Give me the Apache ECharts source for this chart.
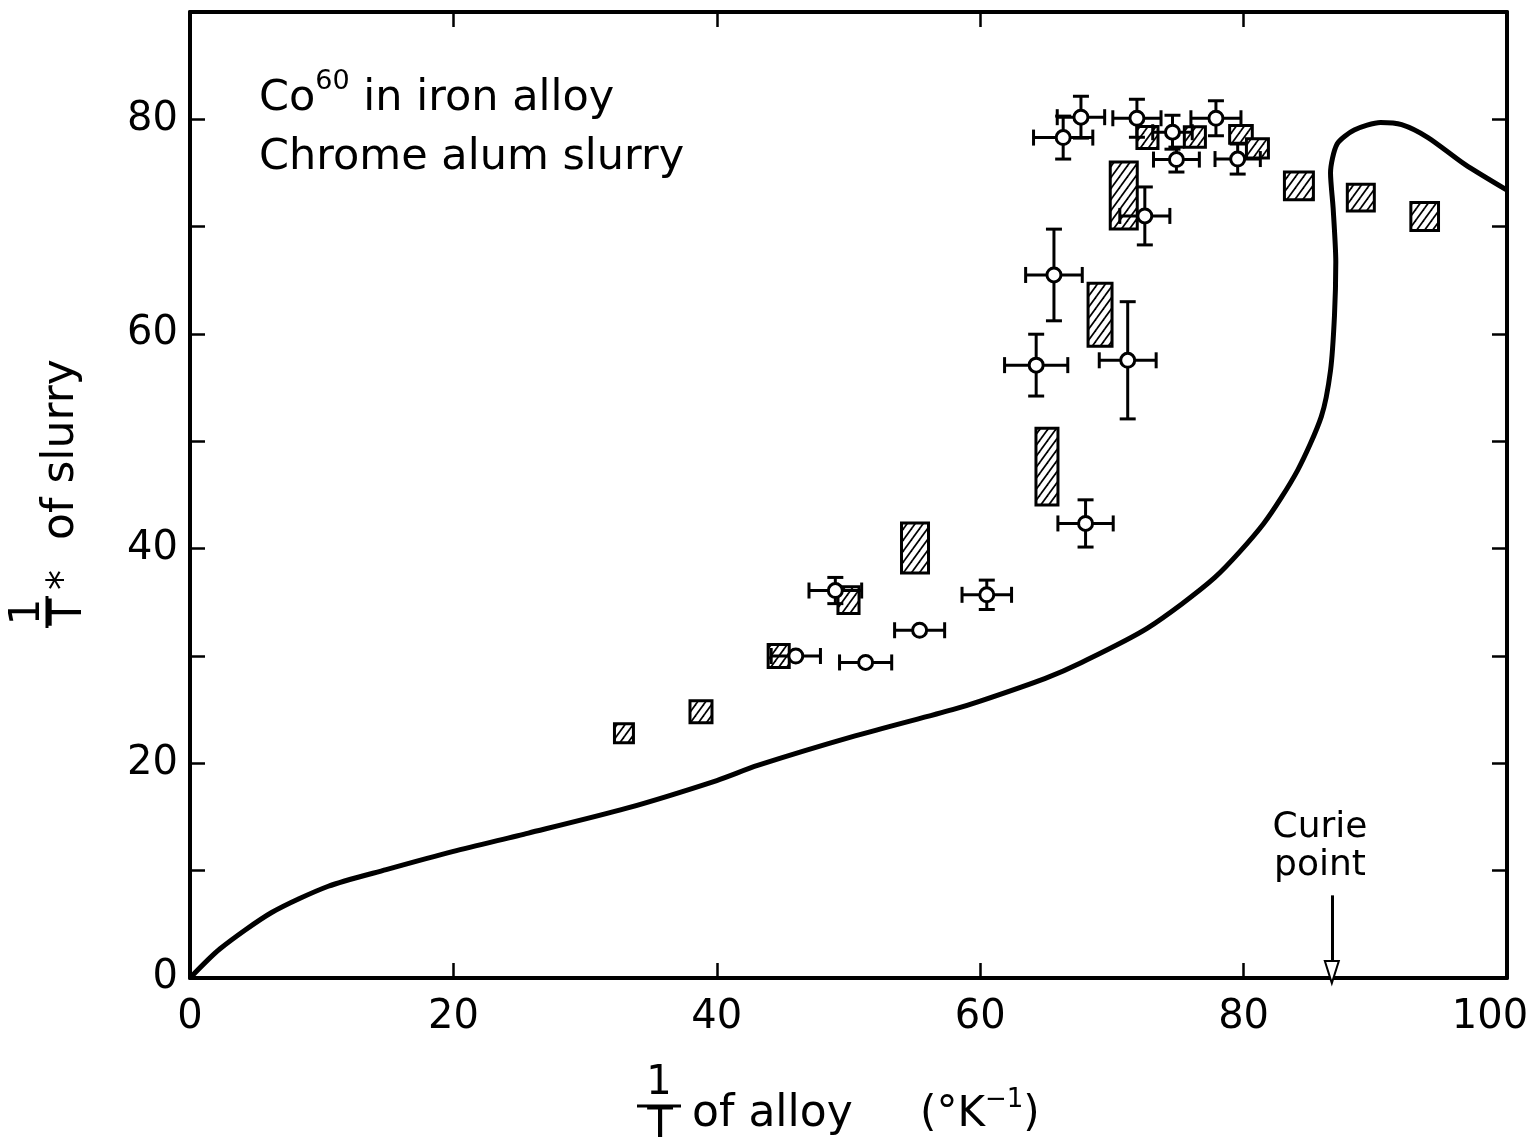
<!DOCTYPE html>
<html>
<head>
<meta charset="utf-8">
<title>Co60 in iron alloy - chrome alum slurry</title>
<script src="https://cdn.jsdelivr.net/npm/echarts@6.0.0/dist/echarts.min.js"></script>
<style>
	html, body { margin: 0; padding: 0; background: #fff; }
	#main { width: 1536px; height: 1147px; }
</style>
</head>
<body>
<div id="main"></div>
<script type="text/javascript">

	// solid curve (1/T of alloy, 1/T* of slurry)
	var curveX = [0, 2.26, 6.2, 10.5, 14.9, 20.0, 25.7, 33.1, 40.0, 43.1, 50.5, 57.9, 60.0, 64.9, 67.7, 72.7, 77.8, 81.5, 84.1, 85.9, 86.6, 86.9, 87.0, 86.8, 86.6, 87.1, 88.4, 90.4, 92.0, 94.0, 96.8, 100];
	var curveY = [0, 2.7, 6.1, 8.55, 10.1, 11.8, 13.5, 15.8, 18.4, 19.8, 22.55, 25.0, 25.8, 27.9, 29.4, 32.6, 37.3, 42.3, 47.3, 52.3, 56.6, 61.7, 66.7, 71.7, 75.0, 77.7, 79.0, 79.7, 79.5, 78.3, 75.8, 73.4];

	// hatched boxes: centre and full extent
	var boxX = [32.95, 38.8, 44.7, 50.0, 55.05, 65.07, 69.1, 70.9, 72.7, 76.3, 79.8, 81.05, 84.2, 88.9, 93.75];
	var boxY = [22.8, 24.8, 30.0, 35.2, 40.06, 47.65, 61.8, 72.9, 78.3, 78.35, 78.6, 77.3, 73.8, 72.7, 70.95];
	var boxW = [1.44, 1.67, 1.6, 1.6, 2.05, 1.67, 1.82, 2.05, 1.6, 1.6, 1.72, 1.67, 2.2, 2.05, 2.1];
	var boxH = [1.77, 2.05, 2.14, 2.5, 4.65, 7.16, 5.86, 6.23, 2.05, 1.9, 1.65, 1.8, 2.6, 2.5, 2.6];

	// open circles with error bars (half widths)
	var ptX    = [46.0, 49.0, 51.3, 55.4, 60.5, 68.0, 64.25, 65.6, 71.2, 72.5, 66.3, 67.65, 71.9, 74.6, 74.9, 77.9, 79.55];
	var ptY    = [30.0, 36.1, 29.4, 32.4, 35.7, 42.35, 57.1, 65.5, 57.55, 71.0, 78.3, 80.2, 80.1, 78.8, 76.25, 80.1, 76.3];
	var ptXErr = [1.87, 2.0, 1.98, 1.9, 1.88, 2.1, 2.4, 2.15, 2.16, 1.9, 2.25, 1.8, 1.83, 1.5, 1.74, 1.9, 1.72];
	var ptYErr = [0, 1.22, 0, 0, 1.37, 2.2, 2.88, 4.27, 5.46, 2.7, 2.0, 1.95, 1.77, 1.58, 1.16, 1.63, 1.4];

	var xTickLabels = [0, 20, 40, 60, 80, 100];
	var yTickLabels = [0, 20, 40, 60, 80];

	var curieX = 86.7;
	var curieArrow = [7.7, 0.55];

	var FONT = 'DejaVu Sans';

	// diagonal hatch tile
	function makeHatch() {
		var w = 8, h = 11;
		var c = document.createElement('canvas');
		c.width = w; c.height = h;
		var g = c.getContext('2d');
		g.fillStyle = '#fff';
		g.fillRect(0, 0, w, h);
		g.strokeStyle = '#000';
		g.lineWidth = 1.7;
		for (var k = -1; k <= 1; k++) {
			g.beginPath();
			g.moveTo(k * w - w, 2 * h);
			g.lineTo(k * w + 2 * w, -h);
			g.stroke();
		}
		return c;
	}
	var hatch = { image: makeHatch(), repeat: 'repeat' };

	var curveData = [];
	for (var i = 0; i < curveX.length; i++) curveData.push([curveX[i], curveY[i]]);
	var boxData = [];
	for (var i = 0; i < boxX.length; i++) boxData.push([boxX[i], boxY[i], boxW[i], boxH[i]]);
	var ptData = [];
	for (var i = 0; i < ptX.length; i++) ptData.push([ptX[i], ptY[i], ptXErr[i], ptYErr[i]]);

	function renderBox(params, api) {
		var c = api.coord([api.value(0), api.value(1)]);
		var s = api.size([api.value(2), api.value(3)]);
		return {
			type: 'rect',
			shape: { x: c[0] - s[0] / 2, y: c[1] - s[1] / 2, width: s[0], height: s[1] },
			style: { fill: hatch, stroke: '#000', lineWidth: 3 }
		};
	}

	function bar(x1, y1, x2, y2) {
		return { type: 'line', shape: { x1: x1, y1: y1, x2: x2, y2: y2 }, style: { stroke: '#000', lineWidth: 3 } };
	}

	function renderPoint(params, api) {
		var x = api.value(0), y = api.value(1), xe = api.value(2), ye = api.value(3);
		var c = api.coord([x, y]);
		var cap = 8;
		var kids = [];
		if (xe > 0) {
			var l = api.coord([x - xe, y]), r = api.coord([x + xe, y]);
			kids.push(bar(l[0], c[1], r[0], c[1]));
			kids.push(bar(l[0], c[1] - cap, l[0], c[1] + cap));
			kids.push(bar(r[0], c[1] - cap, r[0], c[1] + cap));
		}
		if (ye > 0) {
			var t = api.coord([x, y + ye]), b = api.coord([x, y - ye]);
			kids.push(bar(c[0], t[1], c[0], b[1]));
			kids.push(bar(c[0] - cap, t[1], c[0] + cap, t[1]));
			kids.push(bar(c[0] - cap, b[1], c[0] + cap, b[1]));
		}
		kids.push({ type: 'circle', shape: { cx: c[0], cy: c[1], r: 7 }, style: { fill: '#fff', stroke: '#000', lineWidth: 3 } });
		return { type: 'group', children: kids };
	}

	var frameLine = { onZero: false, lineStyle: { color: '#000', width: 4 } };
	var inTick = { inside: true, length: 15, lineStyle: { color: '#000', width: 2.5 } };

	var chart = echarts.init(document.getElementById('main'));

	var option = {
		backgroundColor: '#fff',
		animation: false,
		grid: { left: 190, right: 29, top: 12, bottom: 169, outerBoundsMode: 'none', containLabel: false },
		xAxis: [{
			type: 'value', min: 0, max: 100, interval: 20, position: 'bottom',
			axisLine: frameLine, axisTick: inTick, splitLine: { show: false },
			axisLabel: {
				fontFamily: FONT, fontSize: 40, color: '#000', margin: 20,
				formatter: function (v) {
					if (xTickLabels.indexOf(v) < 0) return '';
					return v === 100 ? '{r|' + v + '}' : String(v);
				},
				rich: { r: { fontFamily: FONT, fontSize: 40, color: '#000', padding: [0, 34, 0, 0] } }
			}
		}, {
			type: 'value', min: 0, max: 100, interval: 20, position: 'top',
			axisLine: frameLine, axisTick: inTick, splitLine: { show: false }, axisLabel: { show: false }
		}],
		yAxis: [{
			type: 'value', min: 0, max: 90, interval: 10, position: 'left',
			axisLine: frameLine, axisTick: inTick, splitLine: { show: false },
			axisLabel: {
				fontFamily: FONT, fontSize: 40, color: '#000', margin: 12,
				formatter: function (v) { return yTickLabels.indexOf(v) >= 0 ? String(v) : ''; }
			}
		}, {
			type: 'value', min: 0, max: 90, interval: 10, position: 'right',
			axisLine: frameLine, axisTick: inTick, splitLine: { show: false }, axisLabel: { show: false }
		}],
		series: [{
			type: 'line',
			data: curveData,
			showSymbol: false,
			smooth: 0.25,
			lineStyle: { color: '#000', width: 5 },
			silent: true,
			markLine: {
				silent: true,
				symbol: ['none', 'emptyTriangle'],
				symbolSize: [14, 22],
				label: { show: false },
				lineStyle: { color: '#000', width: 3, type: 'solid' },
				data: [[{ coord: [curieX, curieArrow[0]] }, { coord: [curieX, curieArrow[1]] }]]
			}
		}, {
			type: 'custom',
			renderItem: renderBox,
			data: boxData,
			encode: { x: 0, y: 1 },
			silent: true
		}, {
			type: 'custom',
			renderItem: renderPoint,
			data: ptData,
			encode: { x: 0, y: 1 },
			silent: true
		}],
		graphic: [
			// key text
			{
				type: 'text', left: 259, top: 68,
				style: {
					text: '{b|Co}{s|60}{b| in iron alloy}',
					rich: {
						b: { fontFamily: FONT, fontSize: 43, lineHeight: 62, fill: '#000' },
						s: { fontFamily: FONT, fontSize: 27, lineHeight: 27, verticalAlign: 'top', fill: '#000' }
					}
				}
			},
			{
				type: 'text', left: 259, top: 136,
				style: { text: 'Chrome alum slurry', fontFamily: FONT, fontSize: 43, fill: '#000' }
			},
			// Curie point note
			{
				type: 'text', x: 1320, y: 828,
				style: { text: 'Curie', fontFamily: FONT, fontSize: 36, fill: '#000', align: 'center', verticalAlign: 'middle' }
			},
			{
				type: 'text', x: 1320, y: 866,
				style: { text: 'point', fontFamily: FONT, fontSize: 36, fill: '#000', align: 'center', verticalAlign: 'middle' }
			},
			// x axis title
			{
				type: 'text', x: 659, y: 1064,
				style: { text: '1', fontFamily: FONT, fontSize: 40, fill: '#000', align: 'center', verticalAlign: 'top' }
			},
			{ type: 'line', shape: { x1: 637, y1: 1106, x2: 681, y2: 1106 }, style: { stroke: '#000', lineWidth: 3 } },
			{
				type: 'text', x: 660, y: 1105,
				style: { text: 'T', fontFamily: FONT, fontSize: 42, fill: '#000', align: 'center', verticalAlign: 'top' }
			},
			{
				type: 'text', x: 692, y: 1115,
				style: { text: 'of alloy', fontFamily: FONT, fontSize: 44, fill: '#000', align: 'left', verticalAlign: 'middle' }
			},
			{
				type: 'text', x: 920, y: 1115,
				style: {
					text: '{b|(°K}{s|−1}{b|)}',
					verticalAlign: 'middle',
					rich: {
						b: { fontFamily: FONT, fontSize: 42, lineHeight: 56, fill: '#000' },
						s: { fontFamily: FONT, fontSize: 26, lineHeight: 26, verticalAlign: 'top', fill: '#000' }
					}
				}
			},
			// y axis title, rotated
			{
				type: 'group', x: 50, y: 612, rotation: Math.PI / 2,
				children: [
					{ type: 'text', x: 0, y: -22, style: { text: '1', fontFamily: FONT, fontSize: 42, fill: '#000', align: 'center', verticalAlign: 'middle' } },
					{ type: 'line', shape: { x1: -16, y1: -3, x2: 16, y2: -3 }, style: { stroke: '#000', lineWidth: 3 } },
					{ type: 'text', x: 0, y: 20, style: { text: 'T', fontFamily: FONT, fontSize: 44, fill: '#000', align: 'center', verticalAlign: 'middle' } },
					{ type: 'text', x: 32, y: 16, style: { text: '*', fontFamily: FONT, fontSize: 40, fill: '#000', align: 'center', verticalAlign: 'middle' } },
					{ type: 'text', x: 72, y: 12, style: { text: 'of slurry', fontFamily: FONT, fontSize: 44, fill: '#000', align: 'left', verticalAlign: 'middle' } }
				]
			}
		]
	};

	chart.setOption(option);

</script>
</body>
</html>
